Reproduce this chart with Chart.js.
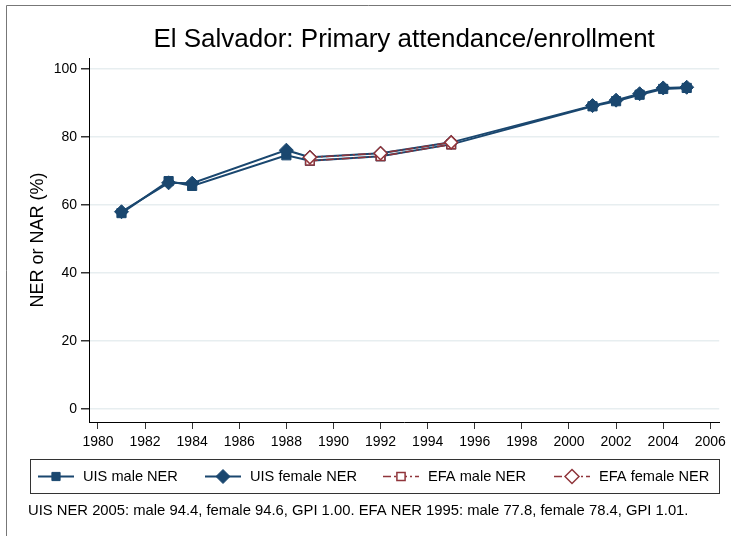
<!DOCTYPE html>
<html><head><meta charset="utf-8">
<script src="https://cdn.jsdelivr.net/npm/chart.js@4"></script>
<style>html,body{margin:0;padding:0;background:#fff;} canvas{display:block}</style>
</head><body>
<canvas id="c" width="731" height="536"></canvas>
<script>
const titleText = 'El Salvador: Primary attendance/enrollment';
const yTitleText = 'NER or NAR (%)';
const noteText = 'UIS NER 2005: male 94.4, female 94.6, GPI 1.00. EFA NER 1995: male 77.8, female 78.4, GPI 1.01.';
const seriesLabels = ['UIS male NER', 'UIS female NER', 'EFA male NER', 'EFA female NER'];
const uisYears = [1981, 1983, 1984, 1988, 1989, 1992, 1995, 2001, 2002, 2003, 2004, 2005];
const uisMale = [57.6, 67.0, 65.6, 74.6, 73.0, 74.3, 77.8, 89.0, 90.5, 92.4, 94.1, 94.4];
const uisFemale = [58.0, 66.5, 66.4, 76.1, 74.0, 75.2, 78.4, 89.2, 90.8, 92.7, 94.4, 94.6];
const efaYears = [1989, 1992, 1995];
const efaMale = [73.0, 74.3, 77.8];
const efaFemale = [74.0, 75.2, 78.4];
const xTicks = [1980, 1982, 1984, 1986, 1988, 1990, 1992, 1994, 1996, 1998, 2000, 2002, 2004, 2006];
const yTicks = [0, 20, 40, 60, 80, 100];

const NAVY = '#1A476F';
const MAROON = '#90353B';
const FONT = '"Liberation Sans", Arial, Helvetica, sans-serif';
const EFA_DASH = [8, 3, 2, 3];

const pts = (xs, ys) => xs.map((x, i) => ({x: x, y: ys[i]}));

function drawMarker(ctx, style, x, y, r, fill, stroke, lw) {
  ctx.save();
  ctx.setLineDash([]);
  ctx.beginPath();
  if (style === 'rect') {
    const s = r * Math.SQRT1_2;
    ctx.rect(x - s, y - s, 2 * s, 2 * s);
  } else {
    ctx.moveTo(x, y - r); ctx.lineTo(x + r, y); ctx.lineTo(x, y + r); ctx.lineTo(x - r, y); ctx.closePath();
  }
  ctx.fillStyle = fill; ctx.fill();
  ctx.lineWidth = lw; ctx.strokeStyle = stroke; ctx.stroke();
  ctx.restore();
}

const decor = {
  id: 'decor',
  afterDraw(chart) {
    const ctx = chart.ctx;
    const ca = chart.chartArea;
    ctx.save();
    // frame
    ctx.strokeStyle = '#777'; ctx.lineWidth = 1;
    ctx.beginPath(); ctx.moveTo(6.5, 536); ctx.lineTo(6.5, 5.5); ctx.lineTo(731, 5.5); ctx.stroke();
    // title
    ctx.fillStyle = '#000';
    ctx.font = '26px ' + FONT;
    ctx.textAlign = 'center'; ctx.textBaseline = 'middle';
    ctx.fillText(titleText, (ca.left + ca.right) / 2, 40);
    // y title
    ctx.save();
    ctx.translate(38, (ca.top + ca.bottom) / 2);
    ctx.rotate(-Math.PI / 2);
    ctx.font = '18px ' + FONT;
    ctx.fillText(yTitleText, 0, 0);
    ctx.restore();
    // legend box
    ctx.strokeStyle = '#333'; ctx.lineWidth = 1;
    ctx.strokeRect(30.5, 459.5, 689, 34);
    const keyX = [38, 205, 383, 554];
    const ly = 476.5;
    ctx.font = '14.6px ' + FONT;
    ctx.textAlign = 'left';
    chart.data.datasets.forEach((ds, i) => {
      const x0 = keyX[i];
      ctx.save();
      ctx.strokeStyle = ds.borderColor; ctx.lineWidth = ds.borderWidth;
      ctx.setLineDash(ds.borderDash || []);
      ctx.beginPath(); ctx.moveTo(x0, ly); ctx.lineTo(x0 + 36, ly); ctx.stroke();
      ctx.restore();
      drawMarker(ctx, ds.pointStyle, x0 + 18, ly, ds.pointStyle === 'rect' ? 5.8 : 7,
        ds.pointBackgroundColor, ds.pointBorderColor, ds.pointBorderWidth);
      ctx.fillStyle = '#000';
      ctx.fillText(ds.label, x0 + 45, ly + 0.5);
    });
    // note
    ctx.font = '14.8px ' + FONT;
    ctx.fillStyle = '#000';
    ctx.fillText(noteText, 28, 511);
    ctx.restore();
  }
};

new Chart(document.getElementById('c'), {
  type: 'line',
  data: {
    datasets: [
      {label: seriesLabels[0], data: pts(uisYears, uisMale), order: 3,
       borderColor: NAVY, borderWidth: 2, pointStyle: 'rect', pointRadius: 6.5,
       pointBackgroundColor: NAVY, pointBorderColor: NAVY, pointBorderWidth: 1},
      {label: seriesLabels[1], data: pts(uisYears, uisFemale), order: 2,
       borderColor: NAVY, borderWidth: 2, pointStyle: 'rectRot', pointRadius: 7,
       pointBackgroundColor: NAVY, pointBorderColor: NAVY, pointBorderWidth: 1},
      {label: seriesLabels[2], data: pts(efaYears, efaMale), order: 1,
       borderColor: MAROON, borderWidth: 1.5, borderDash: EFA_DASH, pointStyle: 'rect', pointRadius: 6,
       pointBackgroundColor: '#fff', pointBorderColor: MAROON, pointBorderWidth: 1.5},
      {label: seriesLabels[3], data: pts(efaYears, efaFemale), order: 0,
       borderColor: MAROON, borderWidth: 1.5, borderDash: EFA_DASH, pointStyle: 'rectRot', pointRadius: 6.5,
       pointBackgroundColor: '#fff', pointBorderColor: MAROON, pointBorderWidth: 1.5}
    ]
  },
  options: {
    responsive: false, animation: false, devicePixelRatio: 1,
    layout: {padding: {left: 0, right: 11, top: 58, bottom: 84}},
    plugins: {legend: {display: false}, title: {display: false}, tooltip: {enabled: false}},
    elements: {line: {tension: 0}},
    scales: {
      x: {
        type: 'linear', min: 1979.62, max: 2006.38,
        afterBuildTicks: s => { s.ticks = xTicks.map(v => ({value: v})); },
        afterFit: s => { s.height = 30; },
        ticks: {callback: v => String(v), font: {family: FONT, size: 14}, color: '#000', padding: 5,
                maxRotation: 0, autoSkip: false},
        grid: {drawOnChartArea: false, tickLength: 7, tickColor: '#333', lineWidth: 1},
        border: {color: '#000', width: 1}
      },
      y: {
        type: 'linear', min: -3.82, max: 103.2,
        afterBuildTicks: s => { s.ticks = yTicks.map(v => ({value: v})); },
        afterFit: s => { s.width = 89; },
        ticks: {callback: v => String(v), font: {family: FONT, size: 14}, color: '#000', padding: 4},
        grid: {color: '#e7eef0', lineWidth: 1.5, tickLength: 8, tickColor: '#333'},
        border: {color: '#000', width: 1}
      }
    }
  },
  plugins: [decor]
});
</script>
</body></html>
